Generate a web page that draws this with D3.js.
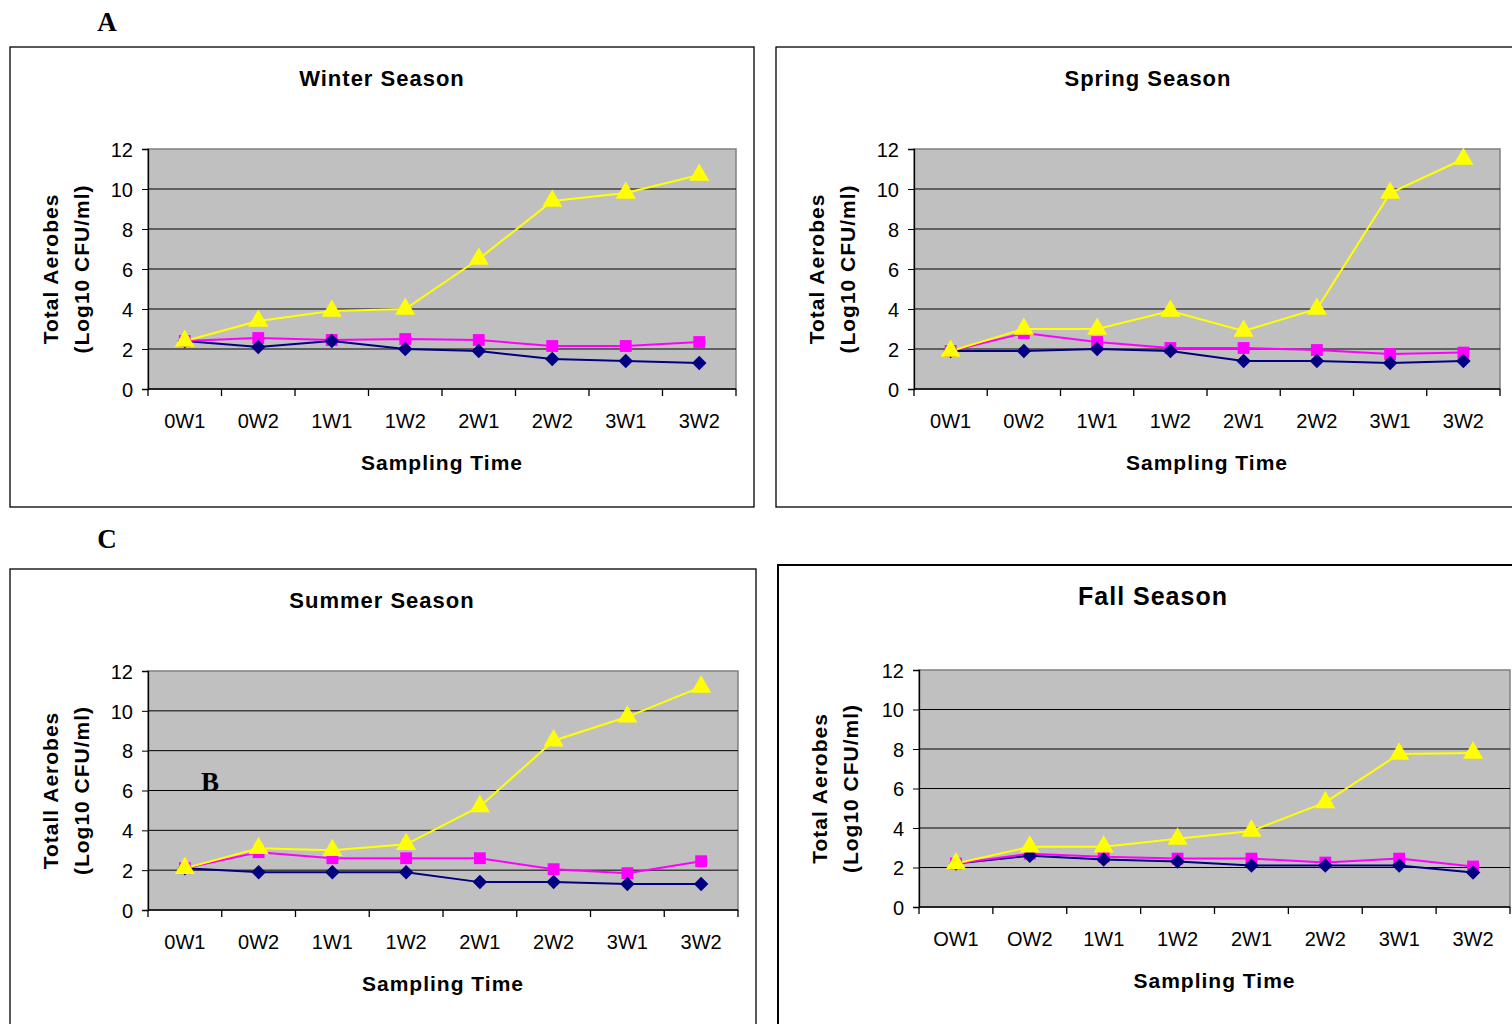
<!DOCTYPE html>
<html>
<head>
<meta charset="utf-8">
<script src="https://d3js.org/d3.v7.min.js"></script>
<style>
  body { margin: 0; background: #fff; }
  svg text { font-family: "Liberation Sans", Arial, sans-serif; fill: #000; }
  .letter { font-family: "Liberation Serif", "Times New Roman", serif; font-weight: bold; }
</style>
</head>
<body>
<svg width="1512" height="1024"></svg>
<script>
// sampling times
var cats = ["0W1", "0W2", "1W1", "1W2", "2W1", "2W2", "3W1", "3W2"];
var catsFall = ["OW1", "OW2", "1W1", "1W2", "2W1", "2W2", "3W1", "3W2"];
var yTicks = [0, 2, 4, 6, 8, 10, 12];

// values (log10 CFU/ml)
var winterNavy   = [2.4, 2.1, 2.4, 2.0, 1.9, 1.5, 1.4, 1.3];
var winterPink   = [2.4, 2.55, 2.45, 2.5, 2.45, 2.15, 2.15, 2.35];
var winterYellow = [2.4, 3.4, 3.9, 4.0, 6.5, 9.4, 9.8, 10.7];

var springNavy   = [1.9, 1.9, 2.0, 1.9, 1.4, 1.4, 1.3, 1.4];
var springPink   = [1.9, 2.8, 2.35, 2.05, 2.05, 1.95, 1.75, 1.82];
var springYellow = [1.9, 3.0, 3.0, 3.9, 2.9, 4.0, 9.8, 11.5];

var summerNavy   = [2.1, 1.9, 1.9, 1.9, 1.4, 1.4, 1.3, 1.3];
var summerPink   = [2.1, 2.9, 2.6, 2.6, 2.6, 2.05, 1.85, 2.45];
var summerYellow = [2.1, 3.1, 3.0, 3.3, 5.2, 8.5, 9.7, 11.2];

var fallNavy   = [2.2, 2.6, 2.4, 2.3, 2.1, 2.1, 2.1, 1.75];
var fallPink   = [2.2, 2.7, 2.55, 2.45, 2.45, 2.25, 2.45, 2.05];
var fallYellow = [2.2, 3.05, 3.05, 3.45, 3.85, 5.3, 7.75, 7.8];

var panels = [
  { title: "Winter Season", tsize: 22, box: [10, 47, 744, 460], plot: [148, 149, 736, 389],
    ytitle: "Total Aerobes", cats: cats, navy: winterNavy, pink: winterPink, yellow: winterYellow },
  { title: "Spring Season", tsize: 22, box: [776, 47, 760, 460], plot: [914, 149, 1500, 389],
    ytitle: "Total Aerobes", cats: cats, navy: springNavy, pink: springPink, yellow: springYellow },
  { title: "Summer Season", tsize: 22, box: [10, 569, 746, 470], plot: [148, 671, 738, 910],
    ytitle: "Totall Aerobes", cats: cats, navy: summerNavy, pink: summerPink, yellow: summerYellow },
  { title: "Fall Season", tsize: 25, box: [778, 565, 760, 470], plot: [919, 670, 1510, 907], thick: true,
    ytitle: "Total Aerobes", cats: catsFall, navy: fallNavy, pink: fallPink, yellow: fallYellow }
];

var svg = d3.select("svg");

panels.forEach(function(p) {
  var g = svg.append("g");
  var L = p.plot[0], T = p.plot[1], R = p.plot[2], B = p.plot[3];

  g.append("rect")
    .attr("x", p.box[0]).attr("y", p.box[1])
    .attr("width", p.box[2]).attr("height", p.box[3])
    .attr("fill", "#fff").attr("stroke", "#000")
    .attr("stroke-width", p.thick ? 2 : 1.3);

  var x = d3.scaleBand().domain(p.cats).range([L, R]);
  var y = d3.scaleLinear().domain([0, 12]).range([B, T]);
  var cx = function(i) { return x(p.cats[i]) + x.bandwidth() / 2; };

  g.append("rect")
    .attr("x", L).attr("y", T).attr("width", R - L).attr("height", B - T)
    .attr("fill", "#c0c0c0").attr("stroke", "#808080").attr("stroke-width", 1.5);

  g.selectAll(".grid").data(yTicks.slice(1, -1)).enter().append("line")
    .attr("x1", L).attr("x2", R)
    .attr("y1", function(d) { return y(d); }).attr("y2", function(d) { return y(d); })
    .attr("stroke", "#000").attr("stroke-width", 1);

  // y axis
  var ya = g.append("g").attr("transform", "translate(" + L + ",0)")
    .call(d3.axisLeft(y).tickValues(yTicks).tickSize(6).tickPadding(9));
  ya.select(".domain").attr("stroke", "#000").attr("stroke-width", 1.3);
  ya.selectAll("text").style("font-size", "20px").style("font-family", "Liberation Sans, Arial, sans-serif").attr("dy", "0.36em");

  // x axis: ticks at category boundaries
  var bounds = p.cats.map(function(c) { return x(c); }).concat([R]);
  g.append("line").attr("x1", L).attr("x2", R).attr("y1", B).attr("y2", B)
    .attr("stroke", "#000").attr("stroke-width", 1.3);
  g.selectAll(".xt").data(bounds).enter().append("line")
    .attr("x1", function(d) { return d; }).attr("x2", function(d) { return d; })
    .attr("y1", B).attr("y2", B + 7).attr("stroke", "#000").attr("stroke-width", 1.3);
  g.selectAll(".xl").data(p.cats).enter().append("text")
    .attr("x", function(d) { return x(d) + x.bandwidth() / 2; })
    .attr("y", B + 39)
    .attr("text-anchor", "middle")
    .style("font-size", "20px")
    .text(function(d) { return d; });

  // titles
  g.append("text")
    .attr("x", p.box[0] + 372 + (p.thick ? 3 : 0))
    .attr("y", p.box[1] + (p.thick ? 40 : 39))
    .attr("text-anchor", "middle")
    .style("font-size", p.tsize + "px").style("font-weight", "bold")
    .style("letter-spacing", "1px")
    .text(p.title);

  g.append("text")
    .attr("x", (L + R) / 2).attr("y", B + 81)
    .attr("text-anchor", "middle")
    .style("font-size", "21px").style("font-weight", "bold")
    .style("letter-spacing", "1px")
    .text("Sampling Time");

  var my = (T + B) / 2;
  var tx = p.box[0] + 48 + (p.thick ? 1 : 0);
  g.append("text")
    .attr("transform", "translate(" + tx + "," + my + ") rotate(-90)")
    .attr("text-anchor", "middle")
    .style("font-size", "21px").style("font-weight", "bold")
    .style("letter-spacing", "1px")
    .text(p.ytitle);
  g.append("text")
    .attr("transform", "translate(" + (tx + 31) + "," + my + ") rotate(-90)")
    .attr("text-anchor", "middle")
    .style("font-size", "21px").style("font-weight", "bold")
    .style("letter-spacing", "1px")
    .text("(Log10 CFU/ml)");

  // series
  var series = [
    { vals: p.navy, color: "#000080", sym: d3.symbolSquare, size: 105, rot: 45 },
    { vals: p.pink, color: "#ff00ff", sym: d3.symbolSquare, size: 140, rot: 0 },
    { vals: p.yellow, color: "#ffff00", sym: d3.symbolTriangle, size: 175, rot: 0 }
  ];
  var line = d3.line().x(function(d, i) { return cx(i); }).y(function(d) { return y(d); });
  series.forEach(function(s) {
    g.append("path").datum(s.vals).attr("d", line)
      .attr("fill", "none").attr("stroke", s.color).attr("stroke-width", 2);
  });
  [series[1], series[0], series[2]].forEach(function(s) {
    g.selectAll(null).data(s.vals).enter().append("path")
      .attr("d", d3.symbol().type(s.sym).size(s.size))
      .attr("transform", function(d, i) { return "translate(" + cx(i) + "," + y(d) + ") rotate(" + s.rot + ")"; })
      .attr("fill", s.color);
  });
});

// panel letters
svg.append("text").attr("class", "letter").attr("x", 107).attr("y", 31)
  .attr("text-anchor", "middle").style("font-size", "27px").text("A");
svg.append("text").attr("class", "letter").attr("x", 107).attr("y", 548)
  .attr("text-anchor", "middle").style("font-size", "27px").text("C");
svg.append("text").attr("class", "letter").attr("x", 210).attr("y", 791)
  .attr("text-anchor", "middle").style("font-size", "27px").text("B");
</script>
</body>
</html>
